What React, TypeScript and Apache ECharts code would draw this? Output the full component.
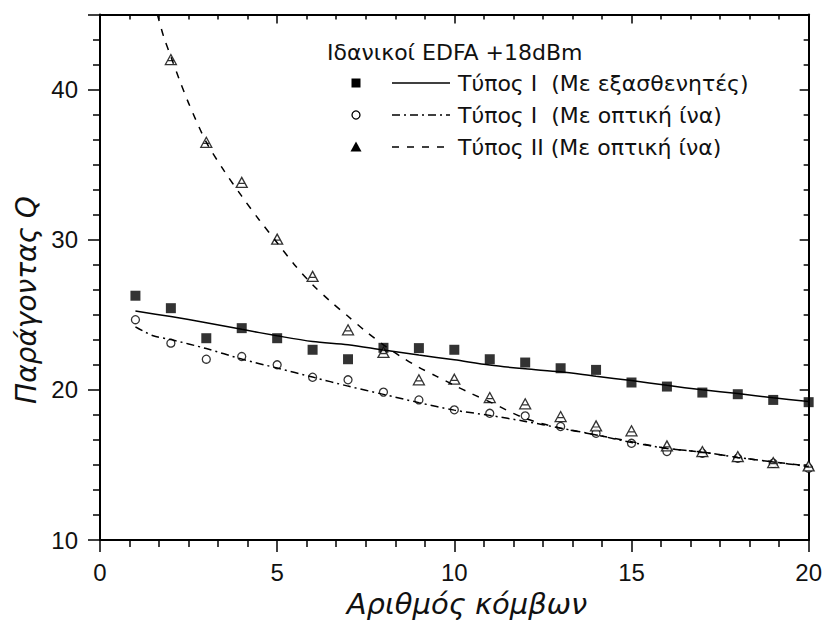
import React, { useEffect, useRef } from "react";
import * as echarts from "echarts";

// ---- data ----
const nodes = [1, 2, 3, 4, 5, 6, 7, 8, 9, 10, 11, 12, 13, 14, 15, 16, 17, 18, 19, 20];
const typeIAttenuatorQ = [26.27, 25.44, 23.44, 24.11, 23.44, 22.67, 22.04, 22.8, 22.78, 22.67, 22.04, 21.82, 21.44, 21.33, 20.49, 20.22, 19.82, 19.71, 19.33, 19.18];
const typeIFiberQ = [24.67, 23.11, 22.04, 22.22, 21.67, 20.84, 20.67, 19.85, 19.33, 18.67, 18.44, 18.27, 17.56, 17.11, 16.44, 15.89, 15.78, 15.44, 15.11, 14.78];
const typeIINodes = [2, 3, 4, 5, 6, 7, 8, 9, 10, 11, 12, 13, 14, 15, 16, 17, 18, 19, 20];
const typeIIFiberQ = [42.0, 36.49, 33.82, 30.04, 27.56, 24.0, 22.49, 20.67, 20.71, 19.49, 19.07, 18.22, 17.6, 17.27, 16.27, 15.89, 15.56, 15.16, 14.93];

// fitted curves
const fitAttX = [1, 2, 3, 4, 5, 6, 7, 8, 9, 10, 11, 12, 13, 14, 15, 16, 17, 18, 19, 20];
const fitAttY = [25.25, 24.88, 24.47, 24.03, 23.6, 23.22, 23.0, 22.65, 22.32, 22.0, 21.65, 21.4, 21.2, 20.9, 20.62, 20.3, 20.0, 19.75, 19.47, 19.22];
const fitFiberX = [1, 1.5, 2, 3, 4, 5, 6, 7, 8, 9, 10, 11, 12, 13, 14, 15, 16, 17, 18, 19, 20];
const fitFiberY = [24.2, 23.6, 23.35, 22.75, 22.05, 21.45, 20.85, 20.25, 19.7, 19.15, 18.65, 18.3, 17.9, 17.45, 17.0, 16.5, 16.1, 15.85, 15.5, 15.2, 14.89];
const fitIIX = [1.62, 1.8, 2, 2.25, 2.5, 3, 3.5, 4, 4.5, 5, 5.5, 6, 6.5, 7, 7.5, 8, 8.5, 9, 9.5, 10, 10.5, 11, 12, 13, 14, 15, 16, 17, 18, 19, 20];
const fitIIY = [45.0, 43.5, 42.2, 40.6, 39.1, 36.5, 34.6, 32.9, 31.3, 29.8, 28.3, 27.0, 25.9, 24.9, 23.9, 23.0, 22.2, 21.5, 20.9, 20.3, 19.73, 19.2, 18.1, 17.45, 17.0, 16.55, 16.1, 15.85, 15.5, 15.2, 14.93];

const legendTitle = "Ιδανικοί EDFA +18dBm";
const legendLabels = ["Τύπος I  (Με εξασθενητές)", "Τύπος I  (Με οπτική ίνα)", "Τύπος II (Με οπτική ίνα)"];
const xTitle = "Αριθμός κόμβων";
const yTitle = "Παράγοντας Q";

const zip = (xs: number[], ys: number[]) => xs.map((x, i) => [x, ys[i]]);

const BLACK = "#000";
const dashDot = [8, 4, 2, 4];
const dashed = [7, 8];
const triPath = "path://M5,0 L10,9 L0,9 Z M1.8,5.5 L8.2,5.5";

export default function App() {
  const ref = useRef<HTMLDivElement>(null);

  useEffect(() => {
    document.body.style.margin = "0";
    if (!ref.current) return;
    const chart = echarts.init(ref.current, undefined, { renderer: "svg" });

    const tickFont = { fontSize: 24, color: "#111", fontFamily: "Liberation Sans, Arial, sans-serif" };
    const axisLine = { show: true, onZero: false, lineStyle: { color: BLACK, width: 2 } };

    const xBase = { type: "value", min: 0, max: 20, interval: 5, splitLine: { show: false } };
    const yBase = { type: "value", min: 10, max: 45, interval: 10, splitLine: { show: false } };

    const legendFont = '22px "DejaVu Sans", sans-serif';
    const rowsY = [83, 115, 147];

    const option: any = {
      animation: false,
      backgroundColor: "#fff",
      grid: { left: 100, right: 13, top: 14.5, bottom: 83, containLabel: false },
      xAxis: [
        {
          ...xBase,
          position: "bottom",
          axisLine,
          axisTick: { show: true, inside: false, length: 12, lineStyle: { color: BLACK, width: 1.5 } },
          minorTick: { show: true, splitNumber: 6, length: 7, lineStyle: { color: BLACK, width: 1.5 } },
          axisLabel: { ...tickFont, margin: 20 },
        },
        {
          ...xBase,
          position: "top",
          axisLine,
          axisTick: { show: true, inside: true, length: 9, lineStyle: { color: BLACK, width: 1.5 } },
          minorTick: { show: true, splitNumber: 6, length: 5, lineStyle: { color: BLACK, width: 1.5 } },
          axisLabel: { show: false },
        },
      ],
      yAxis: [
        {
          ...yBase,
          position: "left",
          axisLine,
          axisTick: { show: true, inside: false, length: 12, lineStyle: { color: BLACK, width: 1.5 } },
          minorTick: { show: true, splitNumber: 6, length: 7, lineStyle: { color: BLACK, width: 1.5 } },
          axisLabel: { ...tickFont, margin: 22, showMaxLabel: false },
        },
        {
          ...yBase,
          position: "right",
          axisLine,
          axisTick: { show: true, inside: true, length: 9, lineStyle: { color: BLACK, width: 1.5 } },
          minorTick: { show: true, splitNumber: 6, length: 5, lineStyle: { color: BLACK, width: 1.5 } },
          axisLabel: { show: false },
        },
      ],
      series: [
        {
          type: "line",
          data: zip(fitAttX, fitAttY),
          symbol: "none",
          smooth: 0.3,
          lineStyle: { color: BLACK, width: 1.5, type: "solid" },
        },
        {
          type: "line",
          data: zip(fitFiberX, fitFiberY),
          symbol: "none",
          smooth: 0.3,
          lineStyle: { color: BLACK, width: 1.5, type: dashDot },
        },
        {
          type: "line",
          data: zip(fitIIX, fitIIY),
          symbol: "none",
          smooth: 0.3,
          clip: true,
          lineStyle: { color: BLACK, width: 1.5, type: dashed },
        },
        {
          type: "scatter",
          data: zip(nodes, typeIAttenuatorQ),
          symbol: "rect",
          symbolSize: 10,
          itemStyle: { color: BLACK },
        },
        {
          type: "scatter",
          data: zip(nodes, typeIFiberQ),
          symbol: "circle",
          symbolSize: 8,
          itemStyle: { color: "#fff", borderColor: BLACK, borderWidth: 1.3 },
        },
        {
          type: "scatter",
          data: zip(typeIINodes, typeIIFiberQ),
          symbol: triPath,
          symbolSize: [11, 10],
          itemStyle: { color: "#fff", borderColor: BLACK, borderWidth: 1.3 },
        },
      ],
      graphic: [
        {
          type: "text",
          x: 327,
          y: 52,
          style: { text: legendTitle, font: legendFont, fill: "#111", textAlign: "left", textVerticalAlign: "middle" },
        },
        // legend markers
        { type: "rect", shape: { x: 351.5, y: rowsY[0] - 4.5, width: 9, height: 9 }, style: { fill: BLACK } },
        { type: "circle", shape: { cx: 356, cy: rowsY[1], r: 4 }, style: { fill: "#fff", stroke: BLACK, lineWidth: 1.3 } },
        {
          type: "polygon",
          shape: { points: [[356, rowsY[2] - 5.5], [361.5, rowsY[2] + 4.5], [350.5, rowsY[2] + 4.5]] },
          style: { fill: BLACK },
        },
        // legend line samples
        { type: "line", shape: { x1: 392, y1: rowsY[0], x2: 450, y2: rowsY[0] }, style: { stroke: BLACK, lineWidth: 1.5 } },
        { type: "line", shape: { x1: 392, y1: rowsY[1], x2: 450, y2: rowsY[1] }, style: { stroke: BLACK, lineWidth: 1.5, lineDash: dashDot } },
        { type: "line", shape: { x1: 392, y1: rowsY[2], x2: 452, y2: rowsY[2] }, style: { stroke: BLACK, lineWidth: 1.5, lineDash: dashed } },
        ...legendLabels.map((t, i) => ({
          type: "text",
          x: 458,
          y: rowsY[i],
          style: { text: t, font: legendFont, fill: "#111", textAlign: "left", textVerticalAlign: "middle" },
        })),
        // axis titles
        {
          type: "text",
          x: 467,
          y: 604,
          style: { text: xTitle, font: 'italic 29px "DejaVu Sans", sans-serif', fill: "#111", textAlign: "center", textVerticalAlign: "middle" },
        },
        {
          type: "text",
          x: 26,
          y: 300,
          rotation: Math.PI / 2,
          style: { text: yTitle, font: 'italic 28px "DejaVu Sans", sans-serif', fill: "#111", textAlign: "center", textVerticalAlign: "middle" },
        },
      ],
    };

    chart.setOption(option);
    return () => chart.dispose();
  }, []);

  return <div ref={ref} style={{ width: 825, height: 623 }} />;
}
